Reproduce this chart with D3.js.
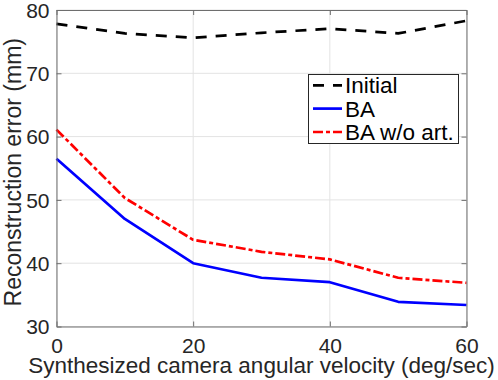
<!DOCTYPE html>
<html>
<head>
<meta charset="utf-8">
<script src="https://cdn.jsdelivr.net/npm/d3@7"></script>
<style>
  html, body { margin: 0; padding: 0; background: #fff; }
  svg { display: block; font-family: "Liberation Sans", Arial, Helvetica, sans-serif; }
</style>
</head>
<body>
<svg id="chart" width="498" height="380"></svg>
<script>
const velocities = [0, 10, 20, 30, 40, 50, 60];
const initialErr = [77.8, 76.3, 75.6, 76.4, 77.05, 76.3, 78.3];
const baErr      = [56.5, 47.0, 40.0, 37.7, 37.0, 33.9, 33.4];
const baNoArtErr = [61.1, 50.3, 43.7, 41.8, 40.6, 37.7, 36.9];
const xTicks = [0, 20, 40, 60];
const yTicks = [30, 40, 50, 60, 70, 80];
const seriesNames = ["Initial", "BA", "BA w/o art."];
const xLabel = "Synthesized camera angular velocity (deg/sec)";
const yLabel = "Reconstruction error (mm)";

const series = [
  { name: seriesNames[0], values: initialErr, color: "#000000", dash: "11,9" },
  { name: seriesNames[1], values: baErr, color: "#0000ff", dash: null },
  { name: seriesNames[2], values: baNoArtErr, color: "#ff0000", dash: "10,3,4,3" }
];

const L = 56.5, R = 466.5, T = 10, B = 326.5;
const svg = d3.select("#chart");
const x = d3.scaleLinear().domain([0, 60]).range([L, R]);
const y = d3.scaleLinear().domain([30, 80]).range([B, T]);

// grid
const grid = svg.append("g");
grid.selectAll("line.gx").data(xTicks).join("line")
  .attr("x1", d => x(d)).attr("x2", d => x(d)).attr("y1", T).attr("y2", B)
  .attr("stroke", "#e3e3e3").attr("stroke-width", 1);
grid.selectAll("line.gy").data(yTicks).join("line")
  .attr("x1", L).attr("x2", R).attr("y1", d => y(d)).attr("y2", d => y(d))
  .attr("stroke", "#e3e3e3").attr("stroke-width", 1);

// lines
const lineGen = vals => d3.line().x((d, i) => x(velocities[i])).y(d => y(d))(vals);
svg.append("g").selectAll("path").data(series).join("path")
  .attr("d", d => lineGen(d.values))
  .attr("fill", "none")
  .attr("stroke", d => d.color)
  .attr("stroke-width", 2.7)
  .attr("stroke-dasharray", d => d.dash)
  .attr("stroke-linejoin", "round");

// axes (ticks inward)
const axColor = "#262626";
const fs = 21;
const xAxis = svg.append("g").attr("transform", `translate(0,${B})`)
  .call(d3.axisBottom(x).tickValues(xTicks).tickSizeInner(-5).tickSizeOuter(0).tickPadding(12));
const xAxisTop = svg.append("g").attr("transform", `translate(0,${T})`)
  .call(d3.axisTop(x).tickValues(xTicks).tickSizeInner(-5).tickSizeOuter(0).tickFormat(""));
const yAxis = svg.append("g").attr("transform", `translate(${L},0)`)
  .call(d3.axisLeft(y).tickValues(yTicks).tickSizeInner(-5).tickSizeOuter(0).tickPadding(12));
const yAxisR = svg.append("g").attr("transform", `translate(${R},0)`)
  .call(d3.axisRight(y).tickValues(yTicks).tickSizeInner(-5).tickSizeOuter(0).tickFormat(""));
[xAxis, xAxisTop, yAxis, yAxisR].forEach(g => {
  g.select(".domain").attr("stroke", "#6e6e6e").attr("stroke-width", 1);
  g.selectAll(".tick line").attr("stroke", "#6e6e6e");
  g.selectAll(".tick text").attr("fill", axColor).attr("font-size", fs)
    .attr("font-family", "Liberation Sans, Arial, sans-serif");
});
xAxis.selectAll(".tick text").attr("dy", "0.71em").attr("y", 12);
yAxis.selectAll(".tick text").attr("dy", "0.35em").attr("x", -7);

// axis labels
svg.append("text").attr("x", (L + R) / 2).attr("y", 373)
  .attr("text-anchor", "middle").attr("font-size", 22.5).attr("fill", axColor)
  .text(xLabel);
svg.append("text").attr("transform", `translate(20.5,${(T + B) / 2 + 4}) rotate(-90)`)
  .attr("text-anchor", "middle").attr("font-size", 23).attr("fill", axColor)
  .text(yLabel);

// legend
const lg = svg.append("g");
lg.append("rect").attr("x", 308.5).attr("y", 74.5).attr("width", 150).attr("height", 69)
  .attr("fill", "#fff").attr("stroke", axColor).attr("stroke-width", 1);
const rowBase = [93.3, 116.6, 140];
series.forEach((s, i) => {
  const ly = rowBase[i] - 8;
  lg.append("line").attr("x1", 313).attr("x2", 342).attr("y1", ly).attr("y2", ly)
    .attr("stroke", s.color).attr("stroke-width", 2.7)
    .attr("stroke-dasharray", s.dash);
  lg.append("text").attr("x", 345).attr("y", rowBase[i])
    .attr("font-size", 22.5).attr("fill", "#000").text(s.name);
});
</script>
</body>
</html>
